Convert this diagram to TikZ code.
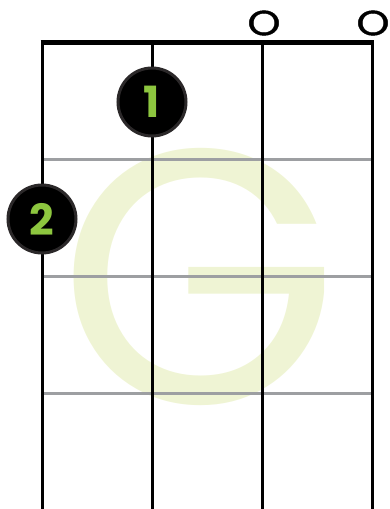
\documentclass[tikz,border=0pt]{standalone}
\usepackage{fontspec}
\newfontfamily\chordfont{Poppins}
\newfontfamily\openfont[FakeBold=1.2]{Poppins}
\definecolor{ChordGreen}{HTML}{8DC63F}
\definecolor{ChordPale}{HTML}{EFF4D4}
\definecolor{FretGray}{HTML}{9D9FA2}
\definecolor{DotRing}{HTML}{2B2829}
\usetikzlibrary{positioning}

\begin{document}
\begin{tikzpicture}[x=1pt, y=-1pt,
  fingerdot/.style={circle, draw=DotRing, fill=black, line width=3pt,
                    minimum size=68pt, inner sep=0pt, text=ChordGreen,
                    font=\chordfont\bfseries\fontsize{43}{43}\selectfont},
  openmark/.style={inner sep=0pt,
                   font=\openfont\fontsize{35}{35}\selectfont},
  stringline/.style={black, line width=3pt},
  fretline/.style={FretGray, line width=3pt}]
  \useasboundingbox (0,0) rectangle (390,509);
  % Chord name
  \node[text=ChordPale, inner sep=0pt, font=\chordfont\fontsize{362}{362}\selectfont]
    (name) at (199,277) {G};
  % Grid corners
  \coordinate (s1top) at (42,42);   \coordinate (s1bot) at (42,509);
  \coordinate (s2top) at (152,42);  \coordinate (s2bot) at (152,509);
  \coordinate (s3top) at (262,42);  \coordinate (s3bot) at (262,509);
  \coordinate (s4top) at (372,42);  \coordinate (s4bot) at (372,509);
  \coordinate (f1l) at (42,159);  \coordinate (f1r) at (372,159);
  \coordinate (f2l) at (42,276);  \coordinate (f2r) at (372,276);
  \coordinate (f3l) at (42,393);  \coordinate (f3r) at (372,393);
  \coordinate (nutl) at (40.5,42.5); \coordinate (nutr) at (373.5,42.5);
  % Frets
  \draw[fretline] (f1l) -- (f1r);
  \draw[fretline] (f2l) -- (f2r);
  \draw[fretline] (f3l) -- (f3r);
  % Strings
  \draw[stringline] (s1top) -- (s1bot);
  \draw[stringline] (s2top) -- (s2bot);
  \draw[stringline] (s3top) -- (s3bot);
  \draw[stringline] (s4top) -- (s4bot);
  % Nut
  \draw[line width=5pt] (nutl) -- (nutr);
  % Open strings
  \node[openmark] (open3) at (264,23) {\scalebox{1.2}[1]{O}};
  \node[openmark] (open4) at (373,23) {\scalebox{1.2}[1]{O}};
  % Fingers
  \node[fingerdot] (dot1) at (152,102) {1};
  \node[fingerdot] (dot2) at (42,219) {2};
\end{tikzpicture}
\end{document}
